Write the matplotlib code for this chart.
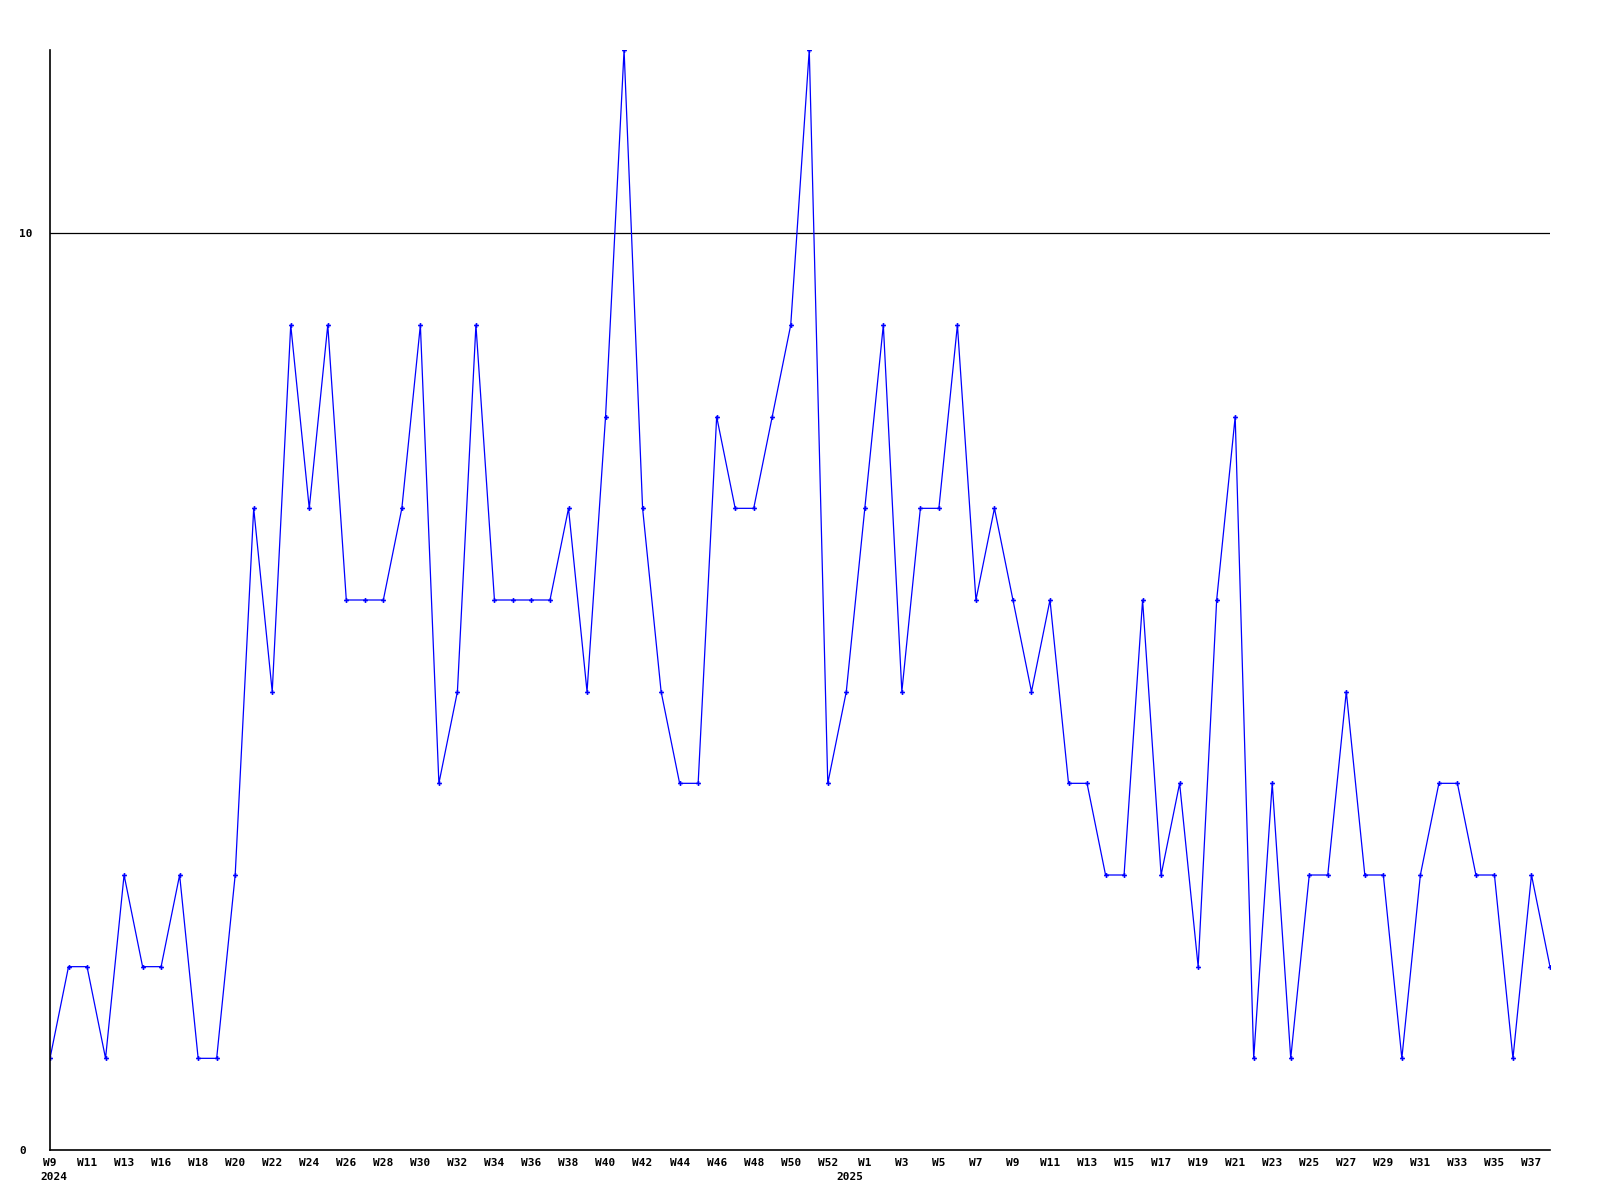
import matplotlib
matplotlib.use("Agg")
import matplotlib.pyplot as plt
import matplotlib.transforms as mtransforms

# weekly counts, 2024 W9 .. 2025 W38
values = [1, 2, 2, 1, 3, 2, 2, 3, 1, 1,
          3, 7, 5, 9, 7, 9, 6, 6, 6, 7,
          9, 4, 5, 9, 6, 6, 6, 6, 7, 5,
          8, 12, 7, 5, 4, 4, 8, 7, 7, 8,
          9, 12, 4, 5, 7, 9, 5, 7, 7, 9,
          6, 7, 6, 5, 6, 4, 4, 3, 3, 6,
          3, 4, 2, 6, 8, 1, 4, 1, 3, 3,
          5, 3, 3, 1, 3, 4, 4, 3, 3, 1,
          3, 2]

week_labels = ["W9", "W11", "W13", "W16", "W18", "W20", "W22", "W24",
               "W26", "W28", "W30", "W32", "W34", "W36", "W38", "W40", "W42",
               "W44", "W46", "W48", "W50", "W52", "W1", "W3", "W5", "W7",
               "W9", "W11", "W13", "W15", "W17", "W19", "W21", "W23", "W25",
               "W27", "W29", "W31", "W33", "W35", "W37"]

years = ["2024", "2025"]
year_pos = [0.2, 43.2]

y_ticks = [0, 10]

fig = plt.figure(figsize=(16, 12), dpi=100)
ax = fig.add_axes([50 / 1600, 50 / 1200, 1500 / 1600, 1100 / 1200])

x = list(range(len(values)))
ax.plot(x, values, color="#0000ff", linewidth=0.9,
        marker="P", markersize=3.5, markeredgewidth=0)
ax.axhline(10, color="black", linewidth=0.9, zorder=0)

ax.set_xlim(0, len(values) - 1)
ax.set_ylim(0, 12)

ax.set_xticks(x[::2][:len(week_labels)])
ax.set_xticklabels(week_labels, family="DejaVu Sans Mono", fontweight="bold",
                   fontsize=8)
ax.set_yticks(y_ticks)
ax.set_yticklabels([str(v) for v in y_ticks], family="DejaVu Sans Mono",
                   fontweight="bold", fontsize=8, ha="left")
ax.tick_params(axis="x", length=0, pad=6)
ax.tick_params(axis="y", length=0, pad=22)

# year labels under the first week of each year
trans = mtransforms.blended_transform_factory(ax.transData, fig.transFigure)
for pos, yr in zip(year_pos, years):
    ax.text(pos, 1 - 1177 / 1200, yr, transform=trans, ha="center",
            va="center", family="DejaVu Sans Mono", fontweight="bold",
            fontsize=8)

for side in ["top", "right"]:
    ax.spines[side].set_visible(False)
for side in ["left", "bottom"]:
    ax.spines[side].set_linewidth(1.2)

fig.savefig("out.png", dpi=100)
